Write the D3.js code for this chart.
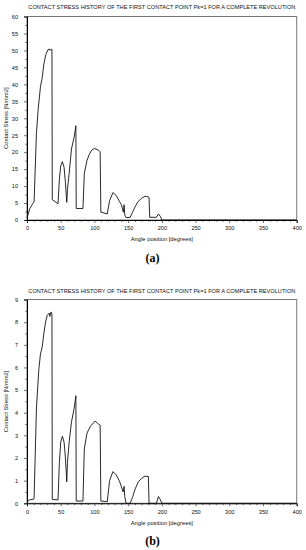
<!DOCTYPE html>
<html>
<head>
<meta charset="utf-8">
<script src="https://cdn.jsdelivr.net/npm/d3@7"></script>
<style>
  body { margin: 0; background: #fff; }
  svg { display: block; }
</style>
</head>
<body>
<div id="chart"></div>
<script>
// -------------------- Data --------------------

const TITLE = "CONTACT STRESS HISTORY OF THE FIRST CONTACT POINT Pk=1 FOR A COMPLETE REVOLUTION";
const X_LABEL = "Angle position [degrees]";
const Y_LABEL = "Contact Stress [N/mm2]";

// (a) angle [deg] and stress
const angleA = [0, 4, 9, 10.5, 14, 16.5, 20, 22.5, 25, 28, 31, 33, 34.5, 36, 37, 37.5, 46, 48, 50, 52.5, 55, 57, 59, 60, 62.5, 66, 70, 72.5, 73, 83, 85, 89, 92.5, 96, 100, 106, 108.5, 109.5, 119, 122.5, 127.5, 132.5, 137, 140, 143, 144, 145, 147, 153, 157, 160, 165, 170, 175, 180, 181, 182, 192, 195, 198, 200, 400];
const stressA = [0.6, 3.3, 5, 5.3, 25.7, 32.5, 39.4, 41.8, 46, 48.8, 50.2, 50.4, 50, 50.4, 50.3, 6, 4.8, 12, 16, 17.2, 15.5, 11, 5.2, 9, 13.7, 21, 24.5, 27.8, 3.4, 3.4, 13.7, 17.6, 19.4, 20.6, 21.1, 20.6, 20.1, 2.3, 1.8, 5.7, 8.1, 7.2, 5.5, 4.5, 2.3, 4.5, 1.5, 0.7, 0.8, 2.5, 3.8, 5.5, 6.4, 7, 6.8, 6.7, 0.8, 0.8, 1.8, 1, 0, 0];

// (b) angle [deg] and stress
const angleB = [0, 4, 9, 10.5, 14, 17.5, 20, 22.5, 25, 27.5, 30, 33, 34, 35, 36, 37, 37.5, 46, 48, 50, 52.5, 55, 57, 59, 60, 62.5, 66, 70, 72.5, 73, 83, 85, 89, 94, 101, 106, 108.5, 109.5, 119, 122.5, 127.5, 132.5, 137.5, 142.5, 144, 145, 147, 153, 157, 160, 165, 170, 175, 180, 181, 192, 195, 198, 200, 400];
const stressB = [0.07, 0.15, 0.18, 0.2, 4.2, 5.9, 6.6, 6.9, 7.5, 8.0, 8.3, 8.4, 8.25, 8.4, 8.45, 8.35, 0.17, 0.15, 1.8, 2.7, 2.96, 2.7, 2.0, 0.95, 1.8, 2.7, 3.6, 4.2, 4.75, 0.1, 0.1, 2.4, 3.1, 3.4, 3.63, 3.5, 3.45, 0.1, 0.07, 1.0, 1.4, 1.25, 0.95, 0.5, 0.75, 0.3, 0, 0, 0.3, 0.6, 0.95, 1.1, 1.2, 1.18, 0, 0, 0.3, 0.15, 0, 0];

const xMajor = [0, 50, 100, 150, 200, 250, 300, 350, 400];
const yMajorA = [0, 5, 10, 15, 20, 25, 30, 35, 40, 45, 50, 55, 60];
const yMajorB = [0, 1, 2, 3, 4, 5, 6, 7, 8, 9];

// -------------------- Setup --------------------

const WIDTH = 306;
const HEIGHT = 550;
const FONT = "'Liberation Sans', Arial, sans-serif";

const svg = d3.select("#chart")
    .append("svg")
    .attr("width", WIDTH)
    .attr("height", HEIGHT);

const panels = [
    { top: 16.5, bottom: 220, angle: angleA, stress: stressA, yMax: 60, yMajor: yMajorA, yMinorStep: 2.5, tag: "(a)", titleY: 8, xLabY: 241, tagY: 261.5 },
    { top: 299.5, bottom: 503.3, angle: angleB, stress: stressB, yMax: 9, yMajor: yMajorB, yMinorStep: 0.5, tag: "(b)", titleY: 291.5, xLabY: 524.5, tagY: 544.5 }
];

const LEFT = 27;
const RIGHT = 296.7;

// -------------------- Functions --------------------

const drawPanel = (p) => {
    const g = svg.append("g");

    const x = d3.scaleLinear().domain([0, 400]).range([LEFT, RIGHT]);
    const y = d3.scaleLinear().domain([0, p.yMax]).range([p.bottom, p.top]);

    // frame (top and right are grey)
    g.append("rect")
        .attr("x", LEFT)
        .attr("y", p.top)
        .attr("width", RIGHT - LEFT)
        .attr("height", p.bottom - p.top)
        .attr("fill", "none")
        .attr("stroke", "#777")
        .attr("stroke-width", 1);

    // minor ticks
    const xMinor = d3.range(0, 401, 10).filter(v => v % 50 !== 0);
    g.append("g")
        .attr("transform", `translate(0,${p.bottom})`)
        .call(d3.axisBottom(x).tickValues(xMinor).tickSize(1.8).tickFormat(""))
        .call(a => a.select(".domain").remove());

    const yMinor = d3.range(0, p.yMax + 1e-9, p.yMinorStep)
        .filter(v => !p.yMajor.some(m => Math.abs(m - v) < 1e-6));
    g.append("g")
        .attr("transform", `translate(${LEFT},0)`)
        .call(d3.axisLeft(y).tickValues(yMinor).tickSize(1.8).tickFormat(""))
        .call(a => a.select(".domain").remove());

    // major ticks + labels
    const xAxis = g.append("g")
        .attr("transform", `translate(0,${p.bottom})`)
        .call(d3.axisBottom(x).tickValues(xMajor).tickSize(3).tickPadding(3.5));
    xAxis.select(".domain").attr("stroke", "#000");

    const yAxis = g.append("g")
        .attr("transform", `translate(${LEFT},0)`)
        .call(d3.axisLeft(y).tickValues(p.yMajor).tickSize(3).tickPadding(6));
    yAxis.select(".domain").attr("stroke", "#000");

    g.selectAll(".tick text")
        .attr("font-family", FONT)
        .attr("font-size", 5.6)
        .attr("fill", "#111");
    g.selectAll(".tick line").attr("stroke", "#333").attr("stroke-width", 0.7);

    // stress line
    const data = p.angle.map((a, i) => ({ a: a, s: p.stress[i] }));
    g.append("path")
        .datum(data)
        .attr("fill", "none")
        .attr("stroke", "#111")
        .attr("stroke-width", 0.9)
        .attr("stroke-linejoin", "round")
        .attr("d", d3.line().x(d => x(d.a)).y(d => y(d.s)));

    // title
    g.append("text")
        .attr("x", (LEFT + RIGHT) / 2)
        .attr("y", p.titleY)
        .attr("text-anchor", "middle")
        .attr("dominant-baseline", "middle")
        .attr("font-family", FONT)
        .attr("font-size", 5.6)
        .attr("fill", "#111")
        .attr("textLength", 267)
        .attr("lengthAdjust", "spacingAndGlyphs")
        .text(TITLE);

    // axis titles
    g.append("text")
        .attr("x", (LEFT + RIGHT) / 2)
        .attr("y", p.xLabY)
        .attr("text-anchor", "middle")
        .attr("font-family", FONT)
        .attr("font-size", 5.8)
        .attr("fill", "#111")
        .text(X_LABEL);

    g.append("text")
        .attr("transform", `translate(8,${(p.top + p.bottom) / 2}) rotate(-90)`)
        .attr("text-anchor", "middle")
        .attr("font-family", FONT)
        .attr("font-size", 5.8)
        .attr("fill", "#111")
        .text(Y_LABEL);

    // sub-figure tag
    g.append("text")
        .attr("x", 152.5)
        .attr("y", p.tagY)
        .attr("text-anchor", "middle")
        .attr("font-family", "'Liberation Serif', 'DejaVu Serif', serif")
        .attr("font-size", 12)
        .attr("font-weight", "bold")
        .attr("fill", "#000")
        .text(p.tag);
};

panels.forEach(drawPanel);
</script>
</body>
</html>
